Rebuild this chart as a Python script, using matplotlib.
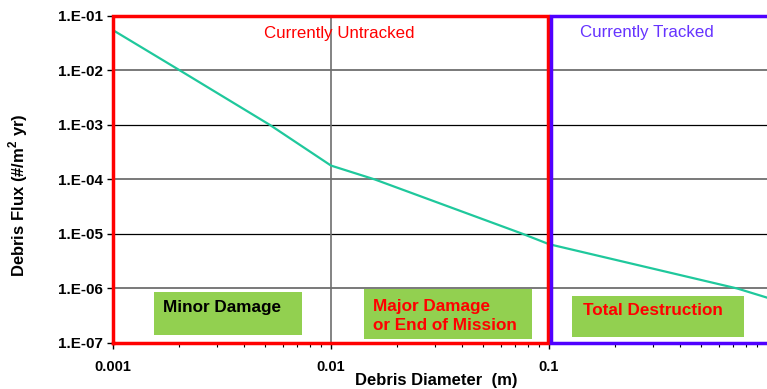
"""Debris flux vs. debris diameter, with tracked/untracked regions."""

import matplotlib
matplotlib.use("Agg")
import matplotlib.pyplot as plt
import matplotlib.patches as mpatches
from matplotlib.ticker import FixedLocator, LogLocator, NullFormatter

plt.rcParams["font.family"] = ["Liberation Sans", "DejaVu Sans"]

# ---------------------------------------------------------------------------
# Data
# ---------------------------------------------------------------------------
diameter_m = [0.001, 0.00203, 0.00525, 0.01, 0.0159, 0.076, 0.1, 0.73, 1.0]
flux = [5.5e-2, 1.0e-2, 1.0e-3, 1.8e-4, 1.0e-4, 1.0e-5, 6.5e-6, 1.0e-6, 6.8e-7]

x_ticks = [0.001, 0.01, 0.1]
x_tick_labels = ["0.001", "0.01", "0.1"]
y_ticks = [1e-7, 1e-6, 1e-5, 1e-4, 1e-3, 1e-2, 1e-1]
y_tick_labels = ["1.E-07", "1.E-06", "1.E-05", "1.E-04", "1.E-03", "1.E-02", "1.E-01"]

damage_labels = ["Minor Damage", "Major Damage\nor End of Mission", "Total Destruction"]
region_labels = ["Currently Untracked", "Currently Tracked"]

# ---------------------------------------------------------------------------
# Styling / layout
# ---------------------------------------------------------------------------
LINE_CLR = "#1fc89c"
RED = "#ff0000"
BLUE = "#5000ff"
GREEN = "#92d050"

# damage boxes in axes fraction: (x0, y0, w, h), text anchor (x, y), text colour
BOX_POS = [(0.0627, 0.0245, 0.226, 0.1315), (0.384, 0.0122, 0.257, 0.153),
           (0.702, 0.0183, 0.263, 0.125)]
BOX_TXT = [(0.0765, 0.11), (0.3976, 0.083), (0.7187, 0.098)]
BOX_TXT_CLR = ["black", RED, RED]

fig = plt.figure(figsize=(7.67, 3.89), dpi=100)
ax = fig.add_axes([0.1473, 0.1183, 0.8527, 0.8406])
ax.set_xscale("log")
ax.set_yscale("log")
ax.set_xlim(0.001, 1.0)
ax.set_ylim(1e-7, 1e-1)

for s in ax.spines.values():
    s.set_visible(False)

# grid: decade lines, alternating grey / black like the original
for i, yv in enumerate(y_ticks[1:-1]):
    if i % 2 == 0:
        ax.axhline(yv, color="#6e6e6e", lw=1.3, zorder=1)
    else:
        ax.axhline(yv, color="black", lw=0.9, zorder=1)
ax.axvline(0.01, color="#6e6e6e", lw=1.2, zorder=1)

ax.plot(diameter_m, flux, color=LINE_CLR, lw=1.6, zorder=3)

# region outlines
ax.plot([0.001, 0.001, 0.0985, 0.0985, 0.001],
        [1e-7, 1e-1, 1e-1, 1e-7, 1e-7],
        color=RED, lw=2.5, clip_on=False, zorder=5, solid_joinstyle="miter")
ax.plot([2.0, 0.1025, 0.1025, 2.0], [1e-1, 1e-1, 1e-7, 1e-7],
        color=BLUE, lw=2.5, clip_on=False, zorder=5, solid_joinstyle="miter")

ax.text(0.3456, 0.945, region_labels[0], transform=ax.transAxes, color=RED,
        fontsize=12.2, ha="center", va="center")
ax.text(0.8165, 0.948, region_labels[1], transform=ax.transAxes, color="#6633ff",
        fontsize=12.2, ha="center", va="center")

for (x0, y0, w, h), (tx, ty), lab, tc in zip(BOX_POS, BOX_TXT, damage_labels, BOX_TXT_CLR):
    ax.add_patch(mpatches.Rectangle((x0, y0), w, h, transform=ax.transAxes,
                                    facecolor=GREEN, edgecolor="none", zorder=4))
    ax.text(tx, ty, lab, transform=ax.transAxes, color=tc, fontsize=12.3,
            fontweight="bold", ha="left", va="center", linespacing=1.3, zorder=6)

# ticks
ax.xaxis.set_major_locator(FixedLocator(x_ticks))
ax.set_xticklabels(x_tick_labels, fontsize=10.5, fontweight="bold")
ax.xaxis.set_minor_locator(LogLocator(base=10, subs=range(2, 10), numticks=20))
ax.xaxis.set_minor_formatter(NullFormatter())
ax.set_yticks(y_ticks)
ax.set_yticklabels(y_tick_labels, fontsize=11, fontweight="bold")
ax.yaxis.set_minor_locator(FixedLocator([]))
ax.tick_params(axis="both", which="major", direction="out", length=4, width=1,
               color="black", pad=3)
ax.tick_params(axis="x", which="major", pad=8)
ax.tick_params(axis="x", which="minor", direction="out", length=3, width=0.8)

fig.text(0.569, 0.021, "Debris Diameter  (m)", fontsize=12, fontweight="bold",
         ha="center", va="center")
fig.text(0.0235, 0.499, "Debris Flux (#/m$^{\\mathregular{2}}$ yr)", fontsize=12,
         fontweight="bold", rotation=90, ha="center", va="center")

fig.savefig("out.png", dpi=100)
plt.close(fig)
